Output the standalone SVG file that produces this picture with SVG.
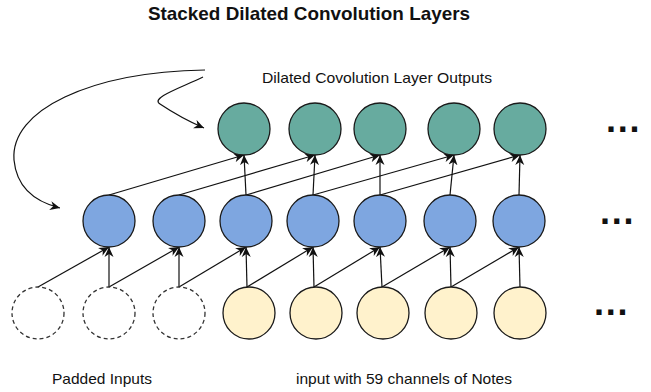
<svg xmlns="http://www.w3.org/2000/svg" width="651" height="392" viewBox="0 0 651 392">
<style>
.out{fill:#67AB9F;stroke:#1a1a1a;stroke-width:1.3}
.hid{fill:#7EA6E0;stroke:#1a1a1a;stroke-width:1.3}
.inp{fill:#FFF2CC;stroke:#1a1a1a;stroke-width:1.3}
.pad{fill:#fff;stroke:#333;stroke-width:1.3;stroke-dasharray:4 3}
.ln{fill:none;stroke:#111;stroke-width:1.2;marker-end:url(#ah)}
.t{font-family:"Liberation Sans",Arial,sans-serif;fill:#111}
.dots{font-family:"Liberation Sans",Arial,sans-serif;font-weight:bold;font-size:36px;letter-spacing:1.7px;fill:#111}
</style>
<defs>
<marker id="ah" viewBox="0 0 10 10" refX="10" refY="5" markerWidth="10" markerHeight="10" markerUnits="userSpaceOnUse" orient="auto">
<path d="M0,0.5 L10,5 L0,9.5 L3,5 z" fill="#111"/>
</marker>
</defs>
<text class="t" x="148" y="20" font-size="18.5" font-weight="bold" textLength="322" lengthAdjust="spacingAndGlyphs">Stacked Dilated Convolution Layers</text>
<text class="t" x="262" y="83" font-size="15" textLength="230" lengthAdjust="spacingAndGlyphs">Dilated Covolution Layer Outputs</text>
<text class="t" x="52" y="384" font-size="15" textLength="100" lengthAdjust="spacingAndGlyphs">Padded Inputs</text>
<text class="t" x="296" y="384" font-size="15" textLength="216" lengthAdjust="spacingAndGlyphs">input with 59 channels of Notes</text>
<g id="connectors">
<path class="ln" d="M205,70 C90,72 10,110 14,160 C17,192 40,203 60,208"/>
<path class="ln" d="M203,77 C180,88 150,98 160,104 C172,112 190,122 204,128"/>
<!-- bottom to middle -->
<path class="ln" d="M38,287 L109,247"/><path class="ln" d="M109,287 L109,247"/>
<path class="ln" d="M109,287 L179,247"/><path class="ln" d="M179,287 L179,247"/>
<path class="ln" d="M179,287 L246,247"/><path class="ln" d="M247,287 L246,247"/>
<path class="ln" d="M247,287 L313,247"/><path class="ln" d="M314,287 L313,247"/>
<path class="ln" d="M314,287 L380,247"/><path class="ln" d="M382,287 L380,247"/>
<path class="ln" d="M382,287 L450,247"/><path class="ln" d="M451,287 L450,247"/>
<path class="ln" d="M451,287 L519,247"/><path class="ln" d="M520,287 L519,247"/>
<!-- middle to top -->
<path class="ln" d="M109,195 L244,155"/><path class="ln" d="M246,195 L244,155"/>
<path class="ln" d="M179,195 L315,155"/><path class="ln" d="M313,195 L315,155"/>
<path class="ln" d="M246,195 L380,155"/><path class="ln" d="M380,195 L380,155"/>
<path class="ln" d="M313,195 L454,155"/><path class="ln" d="M450,195 L454,155"/>
<path class="ln" d="M380,195 L520,155"/><path class="ln" d="M519,195 L520,155"/>
</g>
<g id="out1"><circle class="out" cx="244" cy="129" r="26"/></g>
<g id="out2"><circle class="out" cx="315" cy="129" r="26"/></g>
<g id="out3"><circle class="out" cx="380" cy="129" r="26"/></g>
<g id="out4"><circle class="out" cx="454" cy="129" r="26"/></g>
<g id="out5"><circle class="out" cx="520" cy="129" r="26"/></g>
<g id="hid1"><circle class="hid" cx="109" cy="221" r="26"/></g>
<g id="hid2"><circle class="hid" cx="179" cy="221" r="26"/></g>
<g id="hid3"><circle class="hid" cx="246" cy="221" r="26"/></g>
<g id="hid4"><circle class="hid" cx="313" cy="221" r="26"/></g>
<g id="hid5"><circle class="hid" cx="380" cy="221" r="26"/></g>
<g id="hid6"><circle class="hid" cx="450" cy="221" r="26"/></g>
<g id="hid7"><circle class="hid" cx="519" cy="221" r="26"/></g>
<g id="pad1"><circle class="pad" cx="38" cy="313" r="26"/></g>
<g id="pad2"><circle class="pad" cx="109" cy="313" r="26"/></g>
<g id="pad3"><circle class="pad" cx="179" cy="313" r="26"/></g>
<g id="in1"><circle class="inp" cx="249" cy="313" r="26"/></g>
<g id="in2"><circle class="inp" cx="316" cy="313" r="26"/></g>
<g id="in3"><circle class="inp" cx="383" cy="313" r="26"/></g>
<g id="in4"><circle class="inp" cx="451" cy="313" r="26"/></g>
<g id="in5"><circle class="inp" cx="520" cy="313" r="26"/></g>
<text class="dots" x="606" y="132">...</text>
<text class="dots" x="600" y="224">...</text>
<text class="dots" x="594" y="315">...</text>
</svg>
